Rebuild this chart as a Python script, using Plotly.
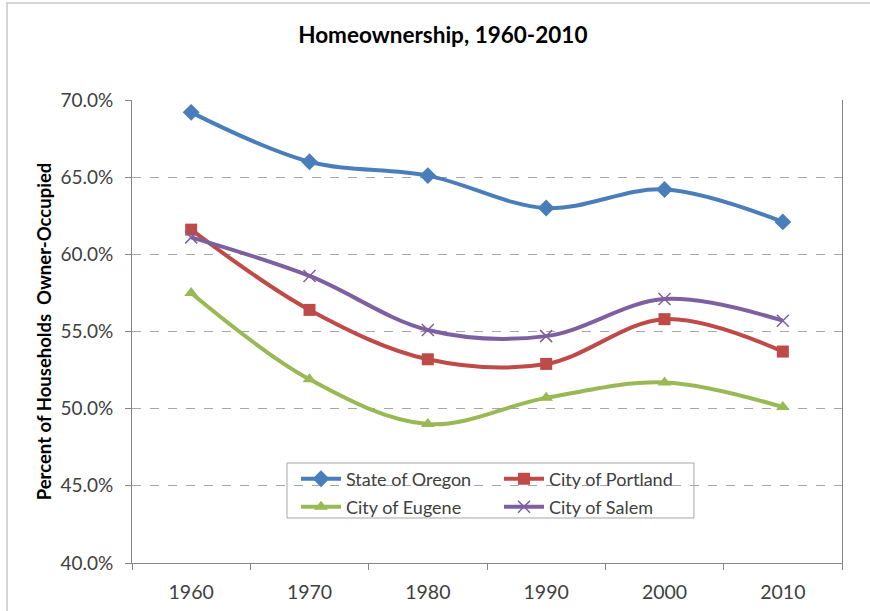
import plotly.graph_objects as go

years = ["1960", "1970", "1980", "1990", "2000", "2010"]
oregon = [69.2, 66.0, 65.1, 63.0, 64.2, 62.1]
portland = [61.6, 56.4, 53.2, 52.9, 55.8, 53.7]
eugene = [57.5, 51.9, 49.0, 50.7, 51.7, 50.1]
salem = [61.1, 58.6, 55.1, 54.7, 57.1, 55.7]
y_ticks = [40, 45, 50, 55, 60, 65, 70]
y_tick_text = ["40.0%", "45.0%", "50.0%", "55.0%", "60.0%", "65.0%", "70.0%"]

FONT = "Lato"
TXT = "#404040"

fig = go.Figure()

def add(name, vals, color, symbol, size, legend, mcolor=None, mline=None):
    marker = dict(symbol=symbol, size=size, color=mcolor or color)
    if mline:
        marker["line"] = dict(color=mline, width=1.5)
    fig.add_trace(go.Scatter(
        x=years, y=vals, name=name, mode="lines+markers",
        line=dict(color=color, width=4, shape="spline", smoothing=1.0),
        marker=marker, legend=legend,
    ))

add("State of Oregon", oregon, "#4A7EBB", "diamond", 13, "legend")
add("City of Portland", portland, "#BE4B48", "square", 12, "legend")
add("City of Eugene", eugene, "#98B954", "triangle-up", 12, "legend2")
add("City of Salem", salem, "#7D60A0", "x-thin-open", 12, "legend2", mline="#A0A0EA")

# legend frame
fig.add_shape(type="rect", xref="paper", yref="paper",
              x0=0.2183, x1=0.7915, y0=0.0972, y1=0.216,
              line=dict(color="#A6A6A6", width=1), fillcolor="white", layer="between")
# outer chart border
fig.add_shape(type="rect", xref="paper", yref="paper",
              x0=-0.176, x1=1.2, y0=-0.3, y1=1.2095,
              line=dict(color="#C8C8C8", width=1.5), fillcolor="rgba(0,0,0,0)", layer="above")

leg_common = dict(orientation="h", xanchor="left", yanchor="middle",
                  entrywidth=148, itemwidth=40, bgcolor="rgba(0,0,0,0)",
                  borderwidth=0, font=dict(family=FONT, size=18, color=TXT),
                  itemclick=False, itemdoubleclick=False)

fig.update_layout(
    width=870, height=611,
    margin=dict(l=132, r=28, t=100, b=48, autoexpand=False),
    paper_bgcolor="white", plot_bgcolor="white",
    title=dict(text="<b>Homeownership, 1960-2010</b>", x=0.509, xref="container",
               xanchor="center", y=0.943, yanchor="middle",
               font=dict(family=FONT, size=22.5, color="#000000")),
    font=dict(family=FONT, color=TXT),
    legend=dict(x=0.231, y=0.1814, **leg_common),
    legend2=dict(x=0.231, y=0.121, **leg_common),
    xaxis=dict(type="category", showgrid=False, showline=True, linecolor="#868686",
               linewidth=1, ticks="outside", tickson="boundaries", ticklen=6,
               tickcolor="#868686", tickfont=dict(family=FONT, size=19.5, color=TXT),
               ticklabelstandoff=12, range=[-0.5, 5.5], automargin=False),
    yaxis=dict(range=[40, 70], tickvals=y_ticks, ticktext=y_tick_text,
               showline=True, mirror=True, linecolor="#868686", linewidth=1,
               ticks="outside", ticklen=6, tickcolor="#868686",
               tickfont=dict(family=FONT, size=19, color=TXT),
               ticklabelstandoff=8, automargin=False,
               showgrid=True, gridcolor="#A6A6A6", griddash="dash", gridwidth=1,
               zeroline=False,
               title=dict(text="<b>Percent of Households  Owner-Occupied</b>",
                          font=dict(family=FONT, size=18.5, color="#000000"), standoff=3)),
)

fig.write_html("out.html", config={"displayModeBar": False},
               post_script="document.body.style.margin='0';")
